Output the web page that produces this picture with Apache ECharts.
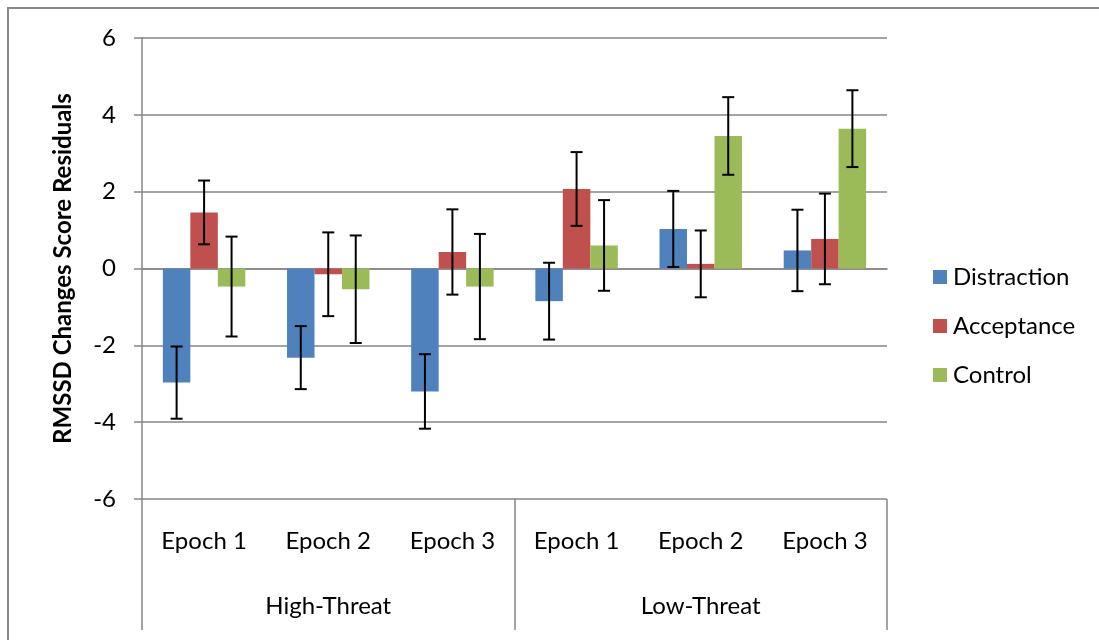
<!DOCTYPE html>
<html>
<head>
<meta charset="utf-8">
<script src="https://cdn.jsdelivr.net/npm/echarts@6/dist/echarts.min.js"></script>
<style>html,body{margin:0;padding:0;background:#fff}#c{width:1099px;height:640px}</style>
</head>
<body>
<div id="c"></div>
<script>
const categories = ['Epoch 1', 'Epoch 2', 'Epoch 3', 'Epoch 1', 'Epoch 2', 'Epoch 3'];
const groups = ['High-Threat', 'Low-Threat'];
const seriesNames = ['Distraction', 'Acceptance', 'Control'];
const distraction = [-2.97, -2.32, -3.20, -0.85, 1.03, 0.47];
const acceptance = [1.46, -0.15, 0.43, 2.07, 0.12, 0.77];
const control = [-0.47, -0.54, -0.47, 0.60, 3.45, 3.64];
const distractionErr = [0.94, 0.82, 0.97, 1.00, 0.99, 1.06];
const acceptanceErr = [0.83, 1.09, 1.11, 0.96, 0.87, 1.18];
const controlErr = [1.30, 1.40, 1.37, 1.18, 1.01, 1.00];
const yTicks = [-6, -4, -2, 0, 2, 4, 6];

const colors = ['#4F81BD', '#C0504D', '#9BBB59'];
const FONT = 'Lato';
const GAP = 0.336;

const values = [distraction, acceptance, control];
const errs = [distractionErr, acceptanceErr, controlErr];

function errSeries(k) {
  const data = values[k].map((v, i) => [i, v - errs[k][i], v + errs[k][i]]);
  return {
    type: 'custom',
    name: seriesNames[k] + ' error',
    xAxisIndex: 0, yAxisIndex: 0,
    z: 10,
    data: data,
    encode: { x: 0, y: [1, 2] },
    renderItem: function (params, api) {
      const i = api.value(0);
      const lo = api.coord([i, api.value(1)]);
      const hi = api.coord([i, api.value(2)]);
      const catW = api.size([1, 0])[0];
      const barW = catW * (1 - GAP) / 3;
      const cx = lo[0] + (k - 1) * barW;
      const cap = 6;
      const st = { stroke: '#000', lineWidth: 2 };
      return {
        type: 'group',
        children: [
          { type: 'line', shape: { x1: cx, y1: lo[1], x2: cx, y2: hi[1] }, style: st },
          { type: 'line', shape: { x1: cx - cap, y1: lo[1], x2: cx + cap, y2: lo[1] }, style: st },
          { type: 'line', shape: { x1: cx - cap, y1: hi[1], x2: cx + cap, y2: hi[1] }, style: st }
        ]
      };
    }
  };
}

const chart = echarts.init(document.getElementById('c'), null, { renderer: 'canvas' });
const gridColor = '#868686';
chart.setOption({
  animation: false,
  backgroundColor: '#fff',
  textStyle: { fontFamily: FONT },
  graphic: [{
    type: 'rect',
    shape: { x: 8, y: 8, width: 1300, height: 800 },
    style: { fill: 'none', stroke: '#8a8a8a', lineWidth: 2 },
    silent: true
  }],
  grid: { left: 142, right: 212, top: 38, bottom: 141 },
  legend: {
    data: seriesNames,
    orient: 'vertical',
    left: 928,
    top: 260,
    itemWidth: 14,
    itemHeight: 14,
    itemGap: 25,
    icon: 'rect',
    textStyle: { fontFamily: FONT, fontSize: 24, color: '#000', padding: [0, 0, 0, 1] }
  },
  xAxis: [{
    type: 'category',
    data: categories,
    position: 'bottom',
    axisLine: { lineStyle: { color: gridColor, width: 1.5 } },
    axisTick: { show: false },
    axisLabel: { fontFamily: FONT, fontSize: 24, color: '#000', margin: 30 }
  }, {
    type: 'category',
    data: groups,
    position: 'bottom',
    gridIndex: 0,
    axisLine: { show: false },
    axisTick: { show: true, length: 131, lineStyle: { color: gridColor, width: 1.5 } },
    axisLabel: { fontFamily: FONT, fontSize: 24, color: '#000', margin: 95 },
    splitLine: { show: false }
  }],
  yAxis: {
    type: 'value',
    min: -6, max: 6, interval: 2,
    name: 'RMSSD Changes Score Residuals',
    nameLocation: 'middle',
    nameGap: 67,
    nameTextStyle: { fontFamily: FONT, fontSize: 24, fontWeight: 'bold', color: '#000' },
    axisLine: { show: true, lineStyle: { color: gridColor, width: 1.5 } },
    axisTick: { show: true, length: 8, lineStyle: { color: gridColor, width: 1.5 } },
    axisLabel: {
      fontFamily: FONT, fontSize: 24, color: '#000', margin: 26,
      formatter: v => yTicks.includes(v) ? String(v) : ''
    },
    splitLine: { show: true, lineStyle: { color: gridColor, width: 1.5 } }
  },
  series: [
    ...seriesNames.map((n, k) => ({
      type: 'bar',
      name: n,
      data: values[k],
      itemStyle: { color: colors[k] },
      barGap: '0%',
      barCategoryGap: (GAP * 100) + '%',
      z: 2
    })),
    errSeries(0), errSeries(1), errSeries(2)
  ]
});
</script>
</body>
</html>
